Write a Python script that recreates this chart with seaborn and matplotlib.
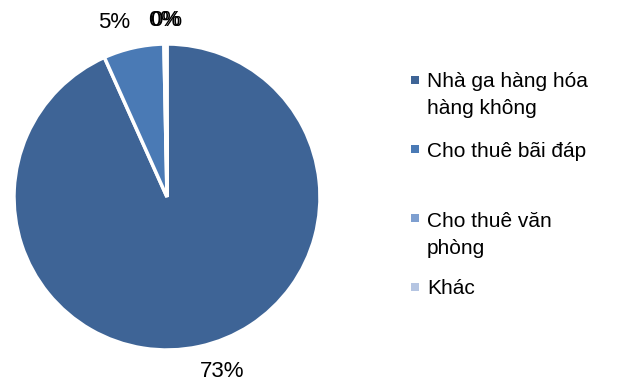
import matplotlib
matplotlib.use("Agg")
import matplotlib.pyplot as plt
import seaborn as sns

categories = ["Nhà ga hàng hóa\nhàng không", "Cho thuê bãi đáp", "Cho thuê văn\nphòng", "Khác"]
values = [73, 5, 0.15, 0.1]
colors = ["#3E6496", "#4A7AB5", "#7E9FD0", "#B5C5E2"]

sns.set_theme(style="white")
plt.rcParams["font.family"] = ["Liberation Sans", "DejaVu Sans"]

W, H = 628, 385
fig = plt.figure(figsize=(W / 100, H / 100), dpi=100)
cx, cy, r = 167, 197, 153
ax = fig.add_axes([(cx - r) / W, 1 - (cy + r) / H, 2 * r / W, 2 * r / H])

wedges, texts = ax.pie(
    values,
    colors=colors,
    startangle=90,
    counterclock=False,
    labels=[f"{v:.0f}%" for v in values],
    labeldistance=1.16,
    wedgeprops=dict(edgecolor="white", linewidth=2.5),
    textprops=dict(fontsize=16, color="black"),
)
# Excel-like label placement (offsets in pixels relative to pie centre)
label_px = [(55, -175), (-53, 175), (-3, 177), (-1, 177)]
for t, (dx, dy) in zip(texts, label_px):
    t.set_position((dx / r, dy / r))
    t.set_ha("center")
    t.set_va("center")
ax.set_xlim(-1, 1)
ax.set_ylim(-1, 1)
ax.set_aspect("equal")
ax.axis("off")

# legend (manual, Excel-style layout)
marker_y = [80, 149, 218, 287]
baselines = [87, 157, 227, 294]
line_gap = 27
for lab, col, my, by in zip(categories, colors, marker_y, baselines):
    fig.patches.append(plt.Rectangle((411 / W, 1 - (my + 4) / H), 8 / W, 8 / H,
                                     transform=fig.transFigure, facecolor=col,
                                     edgecolor="none"))
    for i, line in enumerate(lab.split("\n")):
        fig.text(427 / W, 1 - (by + i * line_gap) / H, line, fontsize=15,
                 va="baseline", ha="left", color="black")

fig.savefig("out.png", dpi=100)
